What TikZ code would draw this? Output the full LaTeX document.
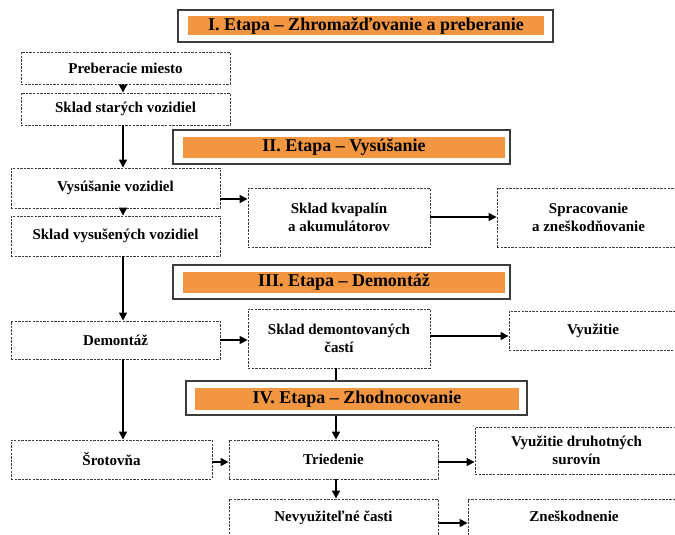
\documentclass[tikz,border=0pt]{standalone}
\usepackage{fontspec}
\setmainfont{Liberation Serif}
\usetikzlibrary{arrows.meta}
\definecolor{etapaorange}{RGB}{243,150,66}
\definecolor{boxgray}{RGB}{60,60,60}
\tikzset{
  stepbox/.style={draw=boxgray, line width=0.9pt, dash pattern=on 2.4pt off 1.2pt, fill=white,
    inner sep=0pt, align=center, font=\fontsize{15}{18.5}\selectfont\bfseries},
  arr/.style={draw=black, line width=1.5pt, -{Triangle[length=8pt,width=8pt]}},
  etapaout/.style={draw=boxgray, line width=1.4pt, fill=white, inner sep=0pt},
  etapain/.style={fill=etapaorange, inner sep=0pt, font=\fontsize{18}{20}\selectfont\bfseries}
}
\begin{document}
\begin{tikzpicture}[x=1pt,y=-1pt]
\useasboundingbox (0,0) rectangle (675,535);
\clip (0,0) rectangle (675,535);
% boxes
\node[stepbox, minimum width=209pt, minimum height=32pt] (pm)  at (125.5,68)  {Preberacie miesto};
\node[stepbox, minimum width=209pt, minimum height=32pt] (ssv) at (125.5,109) {Sklad starých vozidiel};
\node[stepbox, minimum width=209pt, minimum height=40pt] (vys) at (115.5,188) {Vysúšanie vozidiel};
\node[stepbox, minimum width=209pt, minimum height=40pt] (svv) at (115.5,236) {Sklad vysušených vozidiel};
\node[stepbox, minimum width=182pt, minimum height=59pt] (kv)  at (339,217.5) {Sklad kvapalín\\a akumulátorov};
\node[stepbox, minimum width=183pt, minimum height=59pt] (spr) at (588.5,217.5) {Spracovanie\\a zneškodňovanie};
\node[stepbox, minimum width=209pt, minimum height=38pt] (dem) at (115.5,340) {Demontáž};
\node[stepbox, minimum width=182pt, minimum height=59pt] (sdc) at (339,338.5) {Sklad demontovaných\\častí};
\node[stepbox, minimum width=168pt, minimum height=39pt] (vyu) at (593,330.5) {Využitie};
\node[stepbox, minimum width=201pt, minimum height=39pt] (sro) at (111.5,459.5) {Šrotovňa};
\node[stepbox, minimum width=209pt, minimum height=39pt] (tri) at (333.5,459.5) {Triedenie};
\node[stepbox, minimum width=203pt, minimum height=47pt] (vds) at (576.5,450.5) {Využitie druhotných\\surovín};
\node[stepbox, minimum width=209pt, minimum height=39pt, text depth=5pt] (nev) at (333.5,518.5) {Nevyužiteľné časti};
\node[stepbox, minimum width=212pt, minimum height=39pt, text depth=5pt] (zne) at (574,518.5) {Zneškodnenie};
% helper coordinates
\coordinate (colA) at (123,0);
\coordinate (colB) at (336,0);
\coordinate (rowA) at (0,199);
\coordinate (rowB) at (0,336);
\coordinate (rowC) at (0,462);
\coordinate (rowD) at (0,523);
\coordinate (rowE) at (0,217);
% connectors
\draw[arr] (pm.south -| colA) -- (ssv.north -| colA);
\draw[arr] (ssv.south -| colA) -- (vys.north -| colA);
\draw[arr] (vys.south -| colA) -- (svv.north -| colA);
\draw[arr] (svv.south -| colA) -- (dem.north -| colA);
\draw[arr] (dem.south -| colA) -- (sro.north -| colA);
\draw[arr] (vys.east |- rowA) -- (kv.west |- rowA);
\draw[arr] (kv.east |- rowE) -- (spr.west |- rowE);
\draw[arr] (dem.east) -- (sdc.west |- dem.east);
\draw[arr] (sdc.east |- rowB) -- (vyu.west |- rowB);
\draw[arr] (sdc.south -| colB) -- (tri.north -| colB);
\draw[arr] (sro.east |- rowC) -- (tri.west |- rowC);
\draw[arr] (tri.east |- rowC) -- (vds.west |- rowC);
\draw[arr] (tri.south -| colB) -- (nev.north -| colB);
\draw[arr] (nev.east |- rowD) -- (zne.west |- rowD);
% stage titles
\node[etapaout, minimum width=375pt, minimum height=32pt] (t1o) at (365.5,26) {};
\node[etapain, minimum width=356pt, minimum height=19pt] (t1) at (366,26) {I. Etapa – Zhromažďovanie a preberanie};
\node[etapaout, minimum width=337pt, minimum height=34pt] (t2o) at (341.5,147) {};
\node[etapain, minimum width=322pt, minimum height=21pt] (t2) at (344,147.5) {II. Etapa – Vysúšanie};
\node[etapaout, minimum width=337pt, minimum height=34pt] (t3o) at (341.5,282) {};
\node[etapain, minimum width=322pt, minimum height=21pt] (t3) at (344,282.5) {III. Etapa – Demontáž};
\node[etapaout, minimum width=341pt, minimum height=34pt] (t4o) at (356.5,398) {};
\node[etapain, minimum width=324pt, minimum height=22pt] (t4) at (357,399) {IV. Etapa – Zhodnocovanie};
\end{tikzpicture}
\end{document}
